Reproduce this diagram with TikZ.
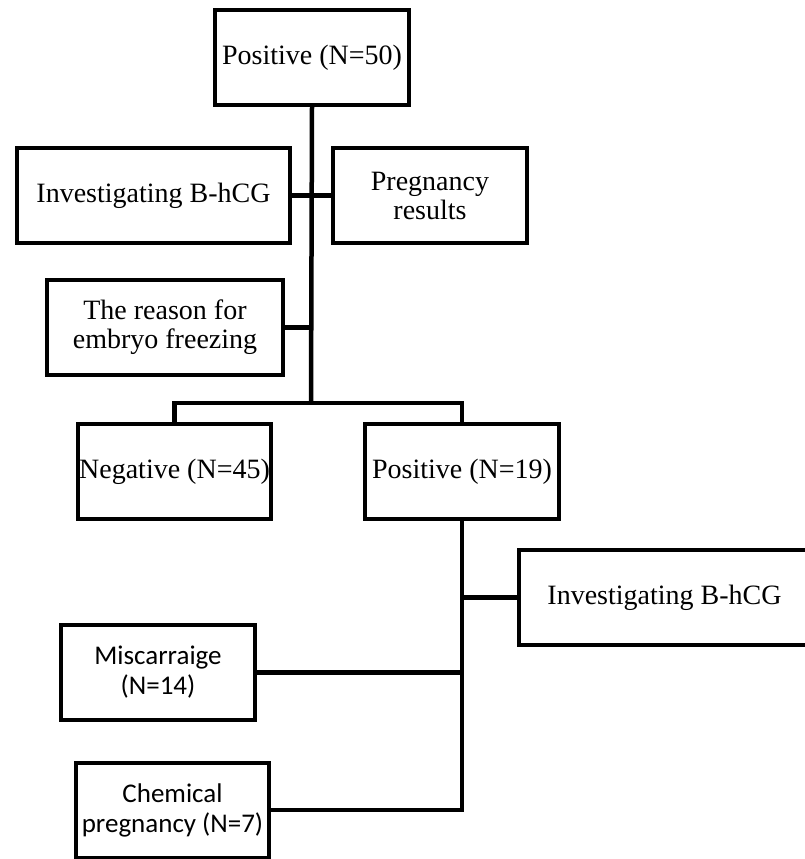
\documentclass[tikz,border=0pt]{standalone}
\usepackage{fontspec}
\newfontfamily\boxserif{Liberation Serif}
\newfontfamily\boxsans{Carlito}
\tikzset{
  box/.style={draw=black,line width=4pt,inner sep=0pt,minimum height=95pt,align=center,
    font=\boxserif\fontsize{28}{29}\selectfont},
  sansbox/.style={box,font=\boxsans\fontsize{27}{30}\selectfont},
  link/.style={draw=black,line width=4.5pt,line join=miter}
}
\begin{document}
\begin{tikzpicture}[x=1pt,y=-1pt]
\useasboundingbox (0,0) rectangle (805,859);
% upper part
\node[box,minimum width=194pt] (top) at (312,57.5) {Positive (N=50)};
\node[box,minimum width=273pt] (invA) at (153.5,195.5) {Investigating B-hCG};
\node[box,minimum width=194pt] (preg) at (430,195.5) {Pregnancy\\results};
\node[box,minimum width=236pt] (reason) at (165,327.5) {The reason for\\embryo freezing};
\coordinate (split) at (311,403);
\node[box,minimum width=193pt] (neg) at (174.5,471.5) {Negative (N=45)};
\node[box,minimum width=194pt] (posB) at (462,471.5) {Positive (N=19)};
% lower part
\node[box,minimum width=291pt] (invB) at (664.5,597.5) {Investigating B-hCG};
\node[sansbox,minimum width=194pt] (misc) at (158,672.5) {Miscarraige\\(N=14)};
\node[sansbox,minimum width=193pt] (chem) at (172.5,810) {Chemical\\pregnancy (N=7)};
% connectors
\draw[link] (top.south) -- (split);
\draw[link] (invA.east) -- (preg.west);
\draw[link] (reason.east) -- (reason.east -| split);
\draw[link] (neg.north) |- (split) -| (posB.north);
\draw[link] (posB.south) |- (chem.east);
\draw[link] (invB.west) -- (invB.west -| posB.south);
\draw[link] (misc.east) -- (misc.east -| posB.south);
\end{tikzpicture}
\end{document}
